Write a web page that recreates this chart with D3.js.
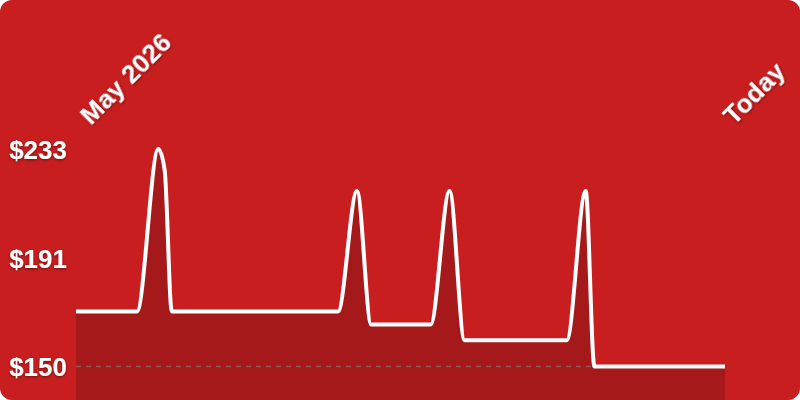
<!DOCTYPE html>
<html>
<head>
<meta charset="utf-8">
<script src="https://cdn.jsdelivr.net/npm/d3@7"></script>
<style>
  html, body { margin: 0; padding: 0; background: #ffffff; }
  svg { display: block; }
</style>
</head>
<body>
<svg id="chart" width="800" height="400"></svg>
<script>
// ---- data ----
const dates = [
  "2026-05-01T00:00", "2026-05-04T05:00", "2026-05-05T08:00", "2026-05-05T16:00",
  "2026-05-06T01:00", "2026-05-14T19:00", "2026-05-15T19:00", "2026-05-16T13:00",
  "2026-05-19T16:00", "2026-05-20T16:00", "2026-05-21T11:00", "2026-05-26T20:00",
  "2026-05-27T20:00", "2026-05-28T07:00", "2026-06-04T04:00"
];
const prices = [171, 171, 233, 225, 171, 171, 217, 166, 166, 217, 160, 160, 217, 150, 150];
const tickValues = [150, 191.5, 233];
const tickLabels = ["$150", "$191", "$233"];
const startLabel = "May 2026";
const endLabel = "Today";

const W = 800, H = 400;
const parse = d3.isoParse;
const data = dates.map((d, i) => ({ date: parse(d), price: prices[i] }));

const svg = d3.select("#chart");
const defs = svg.append("defs");
defs.append("clipPath").attr("id", "card")
  .append("rect").attr("width", W).attr("height", H).attr("rx", 12).attr("ry", 12);
const sh = defs.append("filter").attr("id", "shadow")
  .attr("x", "-20%").attr("y", "-40%").attr("width", "140%").attr("height", "180%");
sh.append("feDropShadow").attr("dx", 0).attr("dy", 1).attr("stdDeviation", 1.6)
  .attr("flood-color", "#000").attr("flood-opacity", 0.5);

const g = svg.append("g").attr("clip-path", "url(#card)");
g.append("rect").attr("width", W).attr("height", H).attr("fill", "#c91e1f");

const x = d3.scaleTime()
  .domain(d3.extent(data, d => d.date))
  .range([76, 725]);
const y = d3.scaleLinear()
  .domain([150, 233])
  .range([366.5, 149]);

const curve = d3.curveMonotoneX;

// area
g.append("path")
  .datum(data)
  .attr("fill", "#a5191a")
  .attr("d", d3.area().curve(curve).x(d => x(d.date)).y0(H).y1(d => y(d.price)));

// dashed baseline at min
g.append("line")
  .attr("x1", x.range()[0]).attr("x2", x.range()[1])
  .attr("y1", y(150)).attr("y2", y(150))
  .attr("stroke", "rgba(130,130,130,0.6)")
  .attr("stroke-width", 1.5)
  .attr("stroke-dasharray", "5,5");

// line
g.append("path")
  .datum(data)
  .attr("fill", "none")
  .attr("stroke", "#ffffff")
  .attr("stroke-width", 4)
  .attr("stroke-linejoin", "round")
  .attr("d", d3.line().curve(curve).x(d => x(d.date)).y(d => y(d.price)));

const FONT = "'Liberation Sans', Arial, Helvetica, sans-serif";

// y axis labels
const yAxis = d3.axisLeft(y)
  .tickValues(tickValues)
  .tickSize(0)
  .tickPadding(0)
  .tickFormat((d, i) => tickLabels[i]);
const ya = g.append("g").attr("transform", "translate(67,0)").call(yAxis);
ya.select(".domain").remove();
ya.selectAll("text")
  .attr("fill", "#ffffff")
  .attr("font-family", FONT)
  .attr("font-weight", "bold")
  .attr("font-size", 26)
  .attr("dy", "0.36em")
  .attr("filter", "url(#shadow)");

// rotated date labels
const dateLabels = [
  { text: startLabel, x: x(data[0].date) + 15 },
  { text: endLabel, x: x(data[data.length - 1].date) + 9 }
];
g.selectAll("text.date")
  .data(dateLabels)
  .join("text")
  .attr("class", "date")
  .attr("transform", d => `translate(${d.x},126) rotate(-45)`)
  .attr("fill", "#ffffff")
  .attr("font-family", FONT)
  .attr("font-weight", "bold")
  .attr("font-size", 26)
  .attr("filter", "url(#shadow)")
  .text(d => d.text);
</script>
</body>
</html>
